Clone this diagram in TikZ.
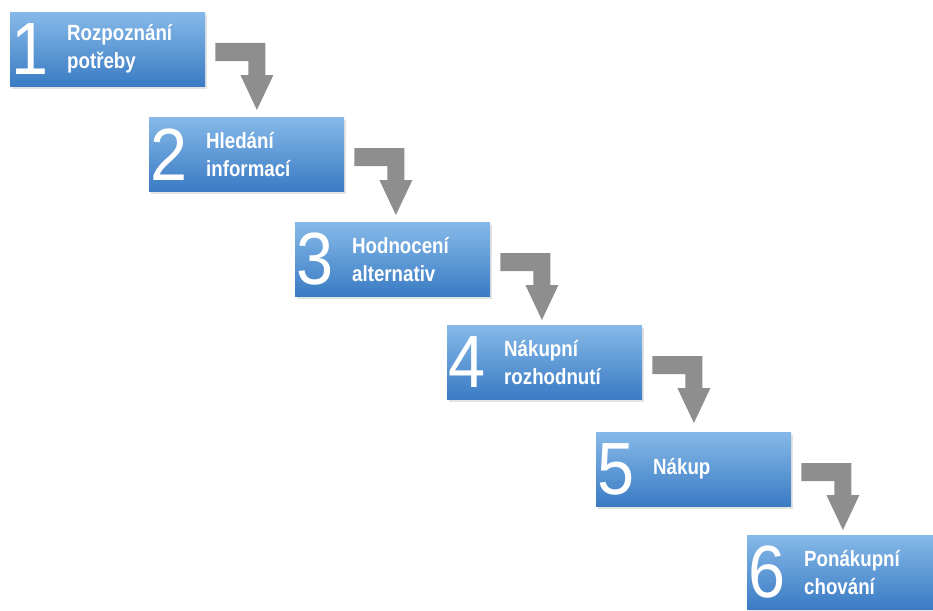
\documentclass[tikz,border=0pt]{standalone}
\usepackage{fontspec}
\setmainfont{Liberation Sans}
\newfontfamily\numfont[FakeStretch=0.9]{Liberation Sans}
\newfontfamily\labfont[FakeStretch=0.85]{Liberation Sans}
\usetikzlibrary{shadows,calc}
\definecolor{boxtop}{HTML}{86B9E8}
\definecolor{boxbot}{HTML}{3A7BC4}
\definecolor{arrowgray}{HTML}{8E8E8E}
\tikzset{
  stepbox/.style={rectangle, minimum width=195pt, minimum height=74pt, inner sep=0pt,
    anchor=north west, top color=boxtop, bottom color=boxbot, draw=none,
    drop shadow={opacity=0.22, shadow xshift=2pt, shadow yshift=-3pt}},
  numtxt/.style={inner sep=0pt, anchor=west, text=white, font=\numfont\fontsize{74}{74}\selectfont},
  labtxt/.style={inner sep=0pt, anchor=west, text=white, align=left,
    font=\labfont\bfseries\fontsize{22}{28}\selectfont},
  steparrow/.style={fill=arrowgray, draw=none}
}
\begin{document}
\begin{tikzpicture}[x=1pt,y=-1pt]
\useasboundingbox (0,0) rectangle (933,610);
\clip (0,0) rectangle (933,610);
\fill[white] (0,0) rectangle (933,610);
\foreach \i/\x/\y/\n/\t in {
  1/10/12/1/{Rozpoznání\\potřeby},
  2/149/117/2/{Hledání\\informací},
  3/295/222/3/{Hodnocení\\alternativ},
  4/447/325/4/{Nákupní\\rozhodnutí},
  5/596/432/5/{Nákup},
  6/747/535/6/{Ponákupní\\chování}}{
  \node[stepbox] (b\i) at (\x,\y) {};
  \node[numtxt] (n\i) at ($(b\i.west)+(1,0)$) {\n};
  \node[labtxt] (l\i) at ($(b\i.west)+(57,0)$) {\t};
}
\foreach \i/\j in {1/2,2/3,3/4,4/5,5/6}{
  \fill[steparrow] ($(b\i.north east)+(10,31)$) -- ++(50,0) -- ++(0,32) -- ++(8,0)
    -- ($(b\i.north east)+(51.5,98)$) -- ($(b\i.north east)+(35,63)$) -- ++(8,0)
    -- ++(0,-14) -- ++(-33,0) -- cycle;
}
\end{tikzpicture}
\end{document}
